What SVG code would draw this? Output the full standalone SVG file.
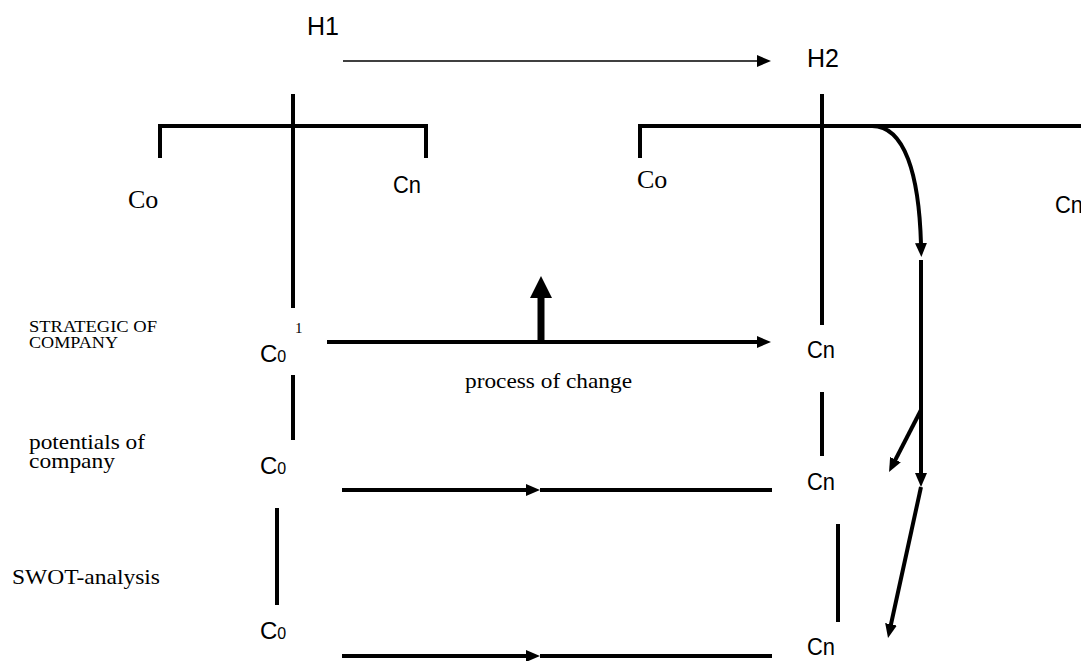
<svg xmlns="http://www.w3.org/2000/svg" width="1081" height="661" viewBox="0 0 1081 661">
<style>
.ln{stroke:#000;stroke-width:4;fill:none}
.thin{stroke:#000;stroke-width:1.3;fill:none}
.sans{font-family:"Liberation Sans",Arial,sans-serif;fill:#000}
.serif{font-family:"Liberation Serif","Times New Roman",serif;fill:#000}
.cn{font-family:"Liberation Sans",Arial,sans-serif;fill:#000;font-size:24px}
</style>
<defs>
<marker id="ah" viewBox="0 0 14 12" refX="1" refY="6" markerWidth="14" markerHeight="12" markerUnits="userSpaceOnUse" orient="auto">
<path d="M0,0 L14,6 L0,12 z" fill="#000"/>
</marker>
<marker id="ahs" viewBox="0 0 14 12" refX="1" refY="6" markerWidth="14" markerHeight="12" markerUnits="userSpaceOnUse" orient="auto">
<path d="M0,0 L14,6 L0,12 z" fill="#000"/>
</marker>
<marker id="ahb" viewBox="0 0 22 22" refX="1" refY="11" markerWidth="22" markerHeight="22" markerUnits="userSpaceOnUse" orient="auto">
<path d="M0,0 L22,11 L0,22 z" fill="#000"/>
</marker>
</defs>
<rect width="1081" height="661" fill="#fff"/>

<g id="h1">
<text class="sans" x="307" y="35" font-size="25">H1</text>
<path class="ln" d="M160 158 V126 H426 V158"/>
<line class="ln" x1="293" y1="94" x2="293" y2="308"/>
<text class="serif" x="128" y="208" font-size="26">Co</text>
<text class="cn" x="393" y="193" textLength="28" lengthAdjust="spacingAndGlyphs">Cn</text>
</g>

<g id="h2">
<text class="sans" x="807" y="67" font-size="25">H2</text>
<path class="ln" d="M640 158 V126 H1081"/>
<line class="ln" x1="822" y1="94" x2="822" y2="325"/>
<text class="serif" x="637" y="188" font-size="26">Co</text>
<text class="cn" x="1055" y="213" textLength="28" lengthAdjust="spacingAndGlyphs">Cn</text>
</g>

<g id="labels">
<text class="serif" x="29" y="332" font-size="17" textLength="128" lengthAdjust="spacingAndGlyphs">STRATEGIC OF</text>
<text class="serif" x="29" y="348" font-size="17" textLength="89" lengthAdjust="spacingAndGlyphs">COMPANY</text>
<text class="serif" x="29" y="449" font-size="21" textLength="116" lengthAdjust="spacingAndGlyphs">potentials of</text>
<text class="serif" x="29" y="468" font-size="21" textLength="86" lengthAdjust="spacingAndGlyphs">company</text>
<text class="serif" x="12" y="584" font-size="21" textLength="148" lengthAdjust="spacingAndGlyphs">SWOT-analysis</text>
<text class="serif" x="465" y="388" font-size="21" textLength="167" lengthAdjust="spacingAndGlyphs">process of change</text>
</g>

<g id="row1">
<text class="serif" x="295" y="333" font-size="15">1</text>
<text class="cn" x="260" y="362">C<tspan font-size="16">0</tspan></text>
<text class="cn" x="807" y="358" textLength="28" lengthAdjust="spacingAndGlyphs">Cn</text>
</g>

<g id="row2">
<line class="ln" x1="293" y1="375" x2="293" y2="440"/>
<line class="ln" x1="822" y1="392" x2="822" y2="456"/>
<text class="cn" x="260" y="474">C<tspan font-size="16">0</tspan></text>
<text class="cn" x="807" y="490" textLength="28" lengthAdjust="spacingAndGlyphs">Cn</text>
</g>

<g id="row3">
<line class="ln" x1="277" y1="508" x2="277" y2="605"/>
<line class="ln" x1="838" y1="524" x2="838" y2="622"/>
<text class="cn" x="260" y="639">C<tspan font-size="16">0</tspan></text>
<text class="cn" x="807" y="655" textLength="28" lengthAdjust="spacingAndGlyphs">Cn</text>
</g>

<g id="connectors">
<line class="thin" x1="343" y1="61" x2="758" y2="61" marker-end="url(#ah)"/>
<line class="ln" x1="327" y1="342" x2="758" y2="342" marker-end="url(#ah)"/>
<line stroke="#000" stroke-width="7" x1="541" y1="342" x2="541" y2="297" marker-end="url(#ahb)"/>
<line class="ln" x1="342" y1="490" x2="527" y2="490" marker-end="url(#ahs)"/>
<line class="ln" x1="540" y1="490" x2="772" y2="490"/>
<line class="ln" x1="342" y1="656" x2="527" y2="656" marker-end="url(#ahs)"/>
<line class="ln" x1="540" y1="656" x2="772" y2="656"/>
<path class="ln" d="M872 126 C905 126 919 175 921 244" marker-end="url(#ah)"/>
<line class="ln" x1="921" y1="260" x2="921" y2="474" marker-end="url(#ah)"/>
<line class="ln" x1="921" y1="487" x2="890.8" y2="625.3" marker-end="url(#ah)"/>
<line class="ln" x1="921" y1="410" x2="895" y2="460.5" marker-end="url(#ah)"/>
</g>
</svg>
